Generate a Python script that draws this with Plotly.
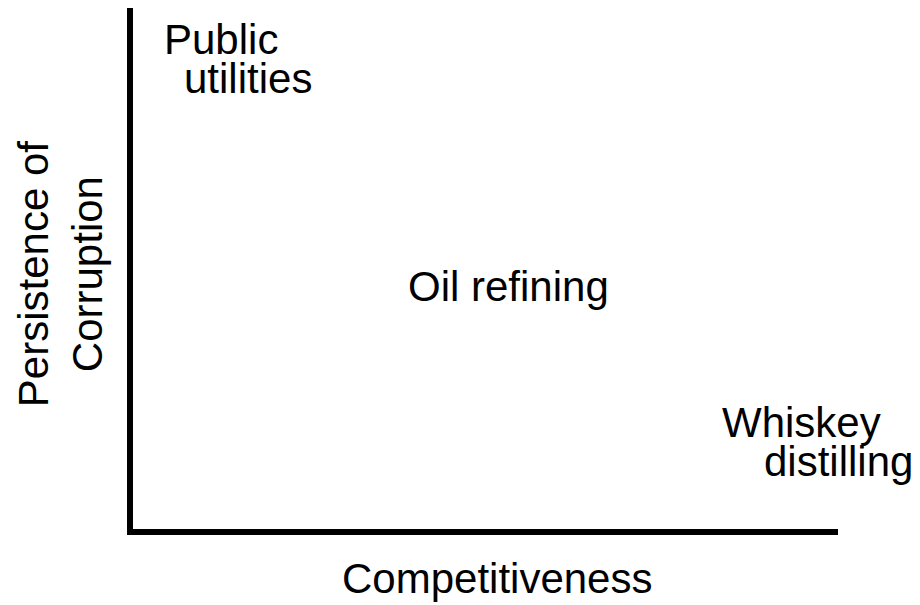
import plotly.graph_objects as go

# Data: industries positioned by competitiveness (x) and persistence of corruption (y)
industries = ["Public utilities", "Oil refining", "Whiskey distilling"]
label_lines = [["Public", "utilities"], ["Oil refining"], ["Whiskey", "distilling"]]
competitiveness = [14.7, 53.5, 97.4]
persistence = [90.3, 46.8, 17.1]

x_title = "Competitiveness"
y_title = "Persistence of<br>Corruption"

FONT = dict(family="Liberation Sans, Arial, sans-serif", size=42, color="black")
# horizontal stagger of the two lines in a label (px), line spacing (px)
line_xshift = {"Public utilities": 13.5, "Whiskey distilling": 18.5}
line_gap = 39

fig = go.Figure()
# invisible anchor points so the axes use the data scale
fig.add_trace(go.Scatter(x=competitiveness, y=persistence, mode="markers",
                         marker=dict(opacity=0), hoverinfo="skip", showlegend=False))

annotations = []
for name, lines, cx, cy in zip(industries, label_lines, competitiveness, persistence):
    n = len(lines)
    for i, line in enumerate(lines):
        if n == 1:
            xs, ys = 0, 0
        else:
            d = line_xshift.get(name, 0)
            xs = -d if i == 0 else d
            ys = line_gap / 2 if i == 0 else -line_gap / 2
        annotations.append(dict(x=cx, y=cy, xref="x", yref="y", text=line,
                                showarrow=False, xanchor="center", yanchor="middle",
                                xshift=xs, yshift=ys, font=FONT))

annotations.append(dict(x=0.518, y=-0.088, xref="paper", yref="paper", text=x_title,
                        showarrow=False, xanchor="center", yanchor="middle", font=FONT))
annotations.append(dict(x=-0.0975, y=0.492, xref="paper", yref="paper", text=y_title,
                        showarrow=False, xanchor="center", yanchor="middle",
                        textangle=-90, font=FONT))

fig.update_layout(
    width=920, height=605,
    margin=dict(l=122, r=90, t=0, b=81),
    paper_bgcolor="white", plot_bgcolor="white",
    xaxis=dict(range=[0, 100], visible=False, fixedrange=True),
    yaxis=dict(range=[0, 100], visible=False, fixedrange=True),
    annotations=annotations,
    shapes=[dict(type="path", xref="paper", yref="paper",
                 path="M 0,1 L 0,0 L 1,0",
                 line=dict(color="black", width=6))],
    showlegend=False,
)

fig.write_html("out.html")
